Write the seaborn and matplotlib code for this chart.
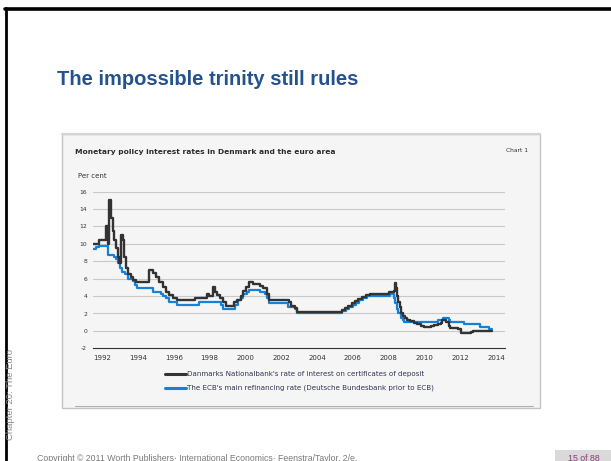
import matplotlib
matplotlib.use("Agg")
import matplotlib.pyplot as plt
from matplotlib.patches import Rectangle
from matplotlib.lines import Line2D
import seaborn as sns
import pandas as pd

# Danmarks Nationalbank CD rate - change points (decimal year, per cent)
dk_year = [1992.00, 1992.33, 1992.71, 1992.84, 1992.89, 1992.97, 1993.08, 1993.17,
           1993.27, 1993.36, 1993.45, 1993.55, 1993.64, 1993.73, 1993.82, 1993.96,
           1994.10, 1994.23, 1994.38, 1995.13, 1995.31, 1995.50, 1995.69, 1995.87,
           1996.06, 1996.25, 1996.43, 1996.69, 1997.68, 1998.33, 1998.46, 1998.67,
           1998.80, 1998.93, 1999.08, 1999.23, 1999.41, 1999.86, 2000.04, 2000.23,
           2000.38, 2000.53, 2000.68, 2000.90, 2001.31, 2001.50, 2001.68, 2001.80,
           2002.95, 2003.06, 2003.27, 2003.40, 2005.87, 2006.06, 2006.25, 2006.43,
           2006.62, 2006.80, 2006.99, 2007.23, 2007.46, 2008.50, 2008.78, 2008.83,
           2008.90, 2008.98, 2009.05, 2009.13, 2009.20, 2009.28, 2009.40, 2009.55,
           2009.72, 2009.90, 2010.10, 2010.30, 2010.45, 2010.85, 2011.05, 2011.25,
           2011.40, 2011.50, 2011.72, 2011.85, 2011.95, 2012.40, 2012.52, 2013.10,
           2013.20, 2014.00, 2014.28]
dk_rate = [10.0, 10.5, 12.0, 10.0, 15.0, 13.0, 11.5, 10.5,
           9.5, 8.5, 7.75, 11.0, 10.5, 8.5, 7.25, 6.5,
           6.25, 5.9, 5.6, 7.0, 6.6, 6.25, 5.6, 5.0,
           4.5, 4.1, 3.8, 3.5, 3.75, 4.25, 4.0, 5.0,
           4.5, 4.1, 3.75, 3.3, 2.9, 3.3, 3.6, 4.0,
           4.6, 5.0, 5.6, 5.4, 5.2, 4.9, 4.25, 3.6,
           3.3, 2.9, 2.6, 2.15, 2.4, 2.65, 2.9, 3.15,
           3.4, 3.65, 3.9, 4.15, 4.25, 4.5, 4.6, 5.5,
           4.9, 4.0, 3.3, 2.7, 2.1, 1.7, 1.5, 1.25,
           1.1, 0.9, 0.75, 0.6, 0.5, 0.6, 0.7, 0.8,
           0.95, 1.2, 1.0, 0.6, 0.35, 0.2, -0.2, -0.1,
           0.0, -0.05, -0.05]

# ECB main refinancing rate (Bundesbank before 1999)
ecb_year = [1992.00, 1992.15, 1992.33, 1992.80, 1993.15, 1993.27, 1993.36, 1993.49,
            1993.62, 1993.77, 1993.92, 1994.20, 1994.33, 1994.46, 1995.35, 1995.76,
            1995.91, 1996.06, 1996.25, 1996.66, 1997.92, 1999.13, 1999.26, 1999.91,
            2000.10, 2000.25, 2000.38, 2000.57, 2000.70, 2001.31, 2001.59, 2001.68,
            2001.81, 2002.89, 2003.27, 2003.40, 2005.87, 2006.12, 2006.30, 2006.49,
            2006.67, 2006.86, 2007.08, 2007.31, 2008.55, 2008.80, 2008.88, 2008.95,
            2009.05, 2009.18, 2009.28, 2009.38, 2011.28, 2011.52, 2011.85, 2011.95,
            2012.70, 2013.60, 2014.10, 2014.30]
ecb_rate = [9.4, 9.6, 9.75, 8.75, 8.5, 8.25, 7.75, 7.25,
            6.75, 6.5, 6.0, 5.75, 5.25, 4.9, 4.5, 4.25,
            4.0, 3.75, 3.3, 3.0, 3.3, 3.0, 2.5, 3.0,
            3.5, 3.75, 4.25, 4.5, 4.75, 4.5, 4.25, 3.75,
            3.25, 2.75, 2.5, 2.0, 2.25, 2.5, 2.75, 3.0,
            3.25, 3.5, 3.75, 4.0, 4.25, 3.75, 3.25, 2.5,
            2.0, 1.5, 1.25, 1.0, 1.25, 1.5, 1.25, 1.0,
            0.75, 0.5, 0.25, 0.25]

year_labels = list(range(1992, 2015, 2))
y_ticks = list(range(-2, 17, 2))

dk_label = "Danmarks Nationalbank's rate of interest on certificates of deposit"
ecb_label = "The ECB's main refinancing rate (Deutsche Bundesbank prior to ECB)"

W, H = 611, 461


def fx(x):
    return x / W


def fy(y):
    return 1 - y / H


sns.set_style("white")
plt.rcParams['font.family'] = ['DejaVu Sans']

fig = plt.figure(figsize=(6.11, 4.61), dpi=100)
fig.patch.set_facecolor("white")

# slide frame (top and left black edges)
fig.add_artist(Line2D([fx(5), fx(611)], [fy(9), fy(9)], color="black", lw=2.6))
fig.add_artist(Line2D([fx(6), fx(6)], [fy(8), fy(461)], color="black", lw=2.0))

# chart panel
panel = Rectangle((fx(62), fy(408)), fx(540) - fx(62), fy(134) - fy(408),
                  transform=fig.transFigure, facecolor="#f5f5f5",
                  edgecolor="#c4c4c4", lw=1.0, zorder=0)
fig.add_artist(panel)
fig.add_artist(Line2D([fx(62), fx(540)], [fy(134), fy(134)], color="#d4d4d4", lw=1.6))
fig.add_artist(Line2D([fx(75), fx(533)], [fy(405.5), fy(405.5)], color="#b0b0b0", lw=0.8))

ax = fig.add_axes([fx(93.3), fy(348.3), fx(505) - fx(93.3), fy(191.7) - fy(348.3)])
ax.set_facecolor("none")

dk = pd.DataFrame({"year": dk_year, "rate": dk_rate})
ecb = pd.DataFrame({"year": ecb_year, "rate": ecb_rate})

sns.lineplot(data=ecb, x="year", y="rate", ax=ax, color="#1581d8", lw=1.6,
             drawstyle="steps-post", zorder=3)
sns.lineplot(data=dk, x="year", y="rate", ax=ax, color="#333333", lw=1.7,
             drawstyle="steps-post", zorder=4)

ax.set_xlim(1992, 2015)
ax.set_ylim(-2, 16)
ax.set_xlabel("")
ax.set_ylabel("")

for v in y_ticks[1:]:
    ax.axhline(v, color="#c9c9c9", lw=0.8, zorder=1)

ax.set_yticks(y_ticks)
ax.set_yticklabels([str(v) for v in y_ticks])
ax.set_xticks([y + 0.5 for y in year_labels])
ax.set_xticklabels([str(y) for y in year_labels])
ax.set_xticks(range(1992, 2016), minor=True)
ax.tick_params(axis="x", which="major", length=0, pad=5, labelsize=5, labelcolor="#333333")
ax.tick_params(axis="x", which="minor", length=2.5, width=0.6, direction="inout", color="#333333")
ax.tick_params(axis="y", length=0, pad=4.5, labelsize=4.3, labelcolor="#333333")

for s in ["top", "right", "left"]:
    ax.spines[s].set_visible(False)
ax.spines["bottom"].set_color("#333333")
ax.spines["bottom"].set_linewidth(0.8)

# chart texts
fig.text(fx(75), fy(152), "Monetary policy interest rates in Denmark and the euro area",
         fontsize=5.4, fontweight="bold", color="#2b2b2b", ha="left", va="center")
fig.text(fx(528), fy(151), "Chart 1", fontsize=4.3, color="#333333", ha="right", va="center")
fig.text(fx(78), fy(176), "Per cent", fontsize=5.0, color="#333333", ha="left", va="center")

# legend
fig.add_artist(Line2D([fx(165), fx(186)], [fy(374), fy(374)], color="#333333", lw=2.2))
fig.add_artist(Line2D([fx(165), fx(186)], [fy(388), fy(388)], color="#1581d8", lw=2.2))
fig.text(fx(187), fy(374), dk_label, fontsize=5.1, color="#333355", ha="left", va="center")
fig.text(fx(187), fy(388), ecb_label, fontsize=5.1, color="#333355", ha="left", va="center")

# slide texts
fig.text(fx(57), fy(79), "The impossible trinity still rules", fontsize=14.5,
         fontweight="bold", color="#24528f", ha="left", va="center",
         family=["Liberation Sans", "DejaVu Sans"])
fig.text(fx(11), fy(394), "Chapter 20: The Euro", fontsize=6.8, color="#8a8a8a",
         rotation=90, ha="center", va="center", family=["Liberation Sans", "DejaVu Sans"])
fig.text(fx(37), fy(458), "Copyright \u00a9 2011 Worth Publishers\u00b7 International Economics\u00b7 Feenstra/Taylor, 2/e.",
         fontsize=6.3, color="#7a7a7a", ha="left", va="center",
         family=["Liberation Sans", "DejaVu Sans"])
fig.add_artist(Rectangle((fx(555), fy(461)), fx(611) - fx(555), fy(450) - fy(461),
                         transform=fig.transFigure, facecolor="#d9d9d9", edgecolor="none"))
fig.text(fx(584), fy(458), "15 of 88", fontsize=6.3, color="#8b3a78", ha="center", va="center",
         family=["Liberation Sans", "DejaVu Sans"])

fig.savefig("out.png", dpi=100)
